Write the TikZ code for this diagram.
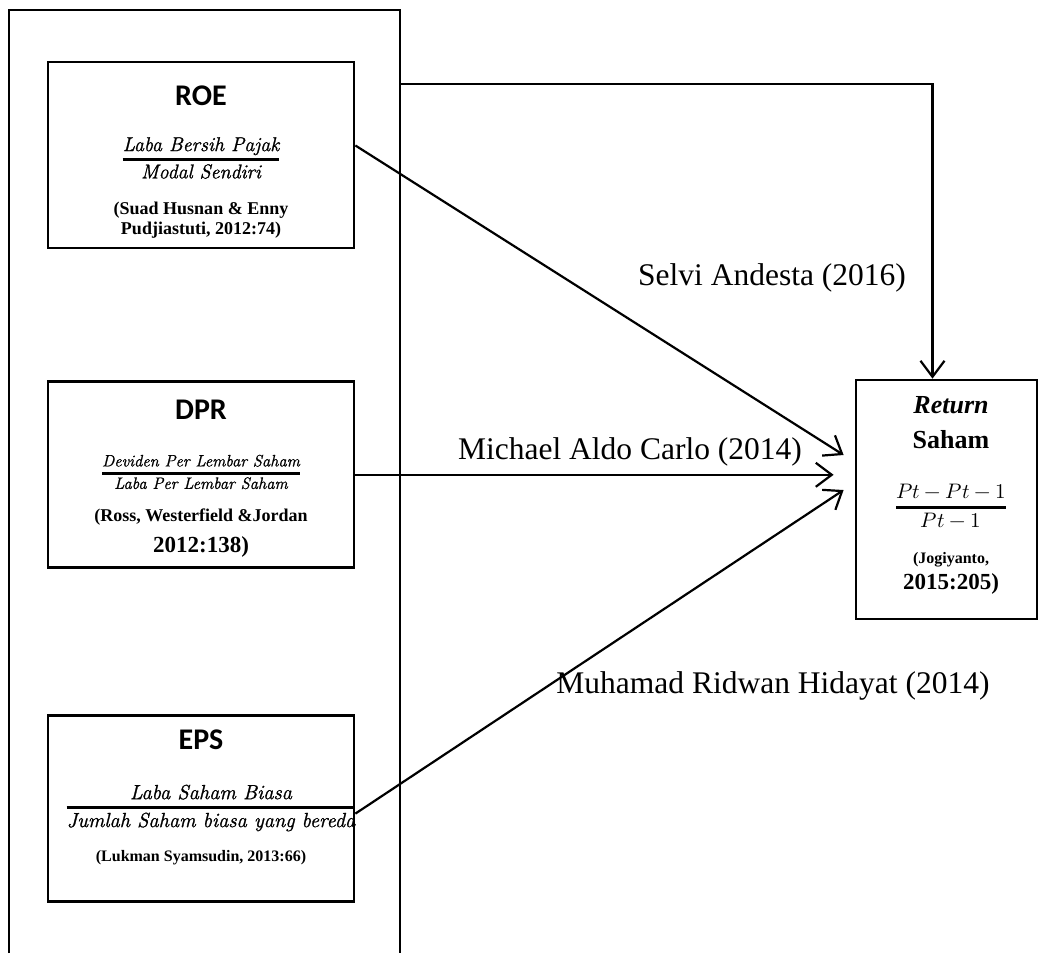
\documentclass[tikz,border=0pt]{standalone}
\usepackage{amsmath}
\usepackage{fontspec}
\usepackage{unicode-math}
\setmainfont{Liberation Serif}
\setmathfont{Latin Modern Math}
\newfontfamily\calibri{Carlito}
\newfontfamily\cambria[FakeBold=1.2]{Latin Modern Roman}
\usetikzlibrary{arrows.meta, positioning}
\tikzset{
  box/.style={draw, line width=2.8pt, minimum width=306pt, minimum height=186pt, inner sep=0pt},
  frame/.style={line width=1.4pt},
  boxtitle/.style={font=\calibri\bfseries\fontsize{30}{32}\selectfont, inner sep=0pt},
  ratio/.style={font=\fontsize{#1}{#1}\selectfont, inner sep=0pt},
  cite/.style={font=\bfseries\fontsize{18}{20}\selectfont, align=center, inner sep=0pt},
  author/.style={font=\fontsize{31.5}{34}\selectfont, inner sep=0pt},
  arr/.style={-{Straight Barb[length=16pt,width=24pt]}, line width=2.2pt},
}
\newcommand{\ratiotext}[2]{$\genfrac{}{}{3pt}{0}{\text{\cambria\itshape #1}}{\text{\cambria\itshape #2}}$}

\begin{document}
\begin{tikzpicture}[x=1pt, y=-1pt]
  \useasboundingbox (0,0) rectangle (1040,953);

  % group frame
  \draw[frame] (9,953) -- (9,10) -- (400,10) -- (400,953);
  \coordinate (out) at (400,84);

  % boxes
  \node[box] (roe) at (201,155) {};
  \node[box, below=131pt of roe] (dpr) {};
  \node[box, below=145pt of dpr] (eps) {};
  \node[box, minimum width=181pt, minimum height=239pt] (ret) at (946.5,499.5) {};

  % ROE
  \node[boxtitle] (roe-t) at (201,96) {ROE};
  \node[ratio=20] (roe-r) at (201,158) {\ratiotext{Laba Bersih Pajak}{Modal Sendiri}};
  \node[cite] (roe-c) at (201,220) {(Suad Husnan \& Enny\\Pudjiastuti, 2012:74)};

  % DPR
  \node[boxtitle] (dpr-t) at (201,410) {DPR};
  \node[ratio=16.5] (dpr-r) at (201,472) {\ratiotext{Deviden Per Lembar Saham}{Laba Per Lembar Saham}};
  \node[cite] (dpr-c) at (201,517) {(Ross, Westerfield \&Jordan};
  \node[cite, font=\bfseries\fontsize{23}{25}\selectfont] (dpr-y) at (201,547) {2012:138)};

  % EPS
  \node[boxtitle] (eps-t) at (201,740) {EPS};
  \node[ratio=20.5] (eps-r) at (211,808) {\ratiotext{Laba Saham Biasa}{Jumlah Saham biasa yang bereda}};
  \node[cite, font=\bfseries\fontsize{16}{18}\selectfont] (eps-c) at (201,858) {(Lukman Syamsudin, 2013:66)};

  % Return saham
  \node[font=\bfseries\itshape\fontsize{26}{28}\selectfont, inner sep=0pt] (ret-t) at (951,405) {Return};
  \node[font=\bfseries\fontsize{26}{28}\selectfont, inner sep=0pt] (ret-s) at (951,440) {Saham};
  \node[ratio=21] (ret-r) at (951,506) {$\genfrac{}{}{3pt}{0}{Pt-Pt-1}{Pt-1}$};
  \node[cite, font=\bfseries\fontsize{16}{18}\selectfont] (ret-c) at (951,560) {(Jogiyanto,};
  \node[cite, font=\bfseries\fontsize{23}{25}\selectfont] (ret-y) at (951,584) {2015:205)};

  % connectors
  \draw[arr] (out) -| ([xshift=-14pt]ret.north);
  \draw[arr] ([yshift=9.5pt]roe.east) -- ([shift={(-11,-44.5)}]ret.west);
  \draw[arr, shorten >=21pt] (dpr.east) -- (dpr.east -| ret.west);
  \draw[arr] ([yshift=-5pt]eps.east) -- ([shift={(-11,-9.5)}]ret.west);

  % references
  \node[author] (selvi) at (772,278) {Selvi Andesta (2016)};
  \node[author] (michael) at (630,452) {Michael Aldo Carlo (2014)};
  \node[author] (muhamad) at (773,686) {Muhamad Ridwan Hidayat (2014)};
\end{tikzpicture}
\end{document}
